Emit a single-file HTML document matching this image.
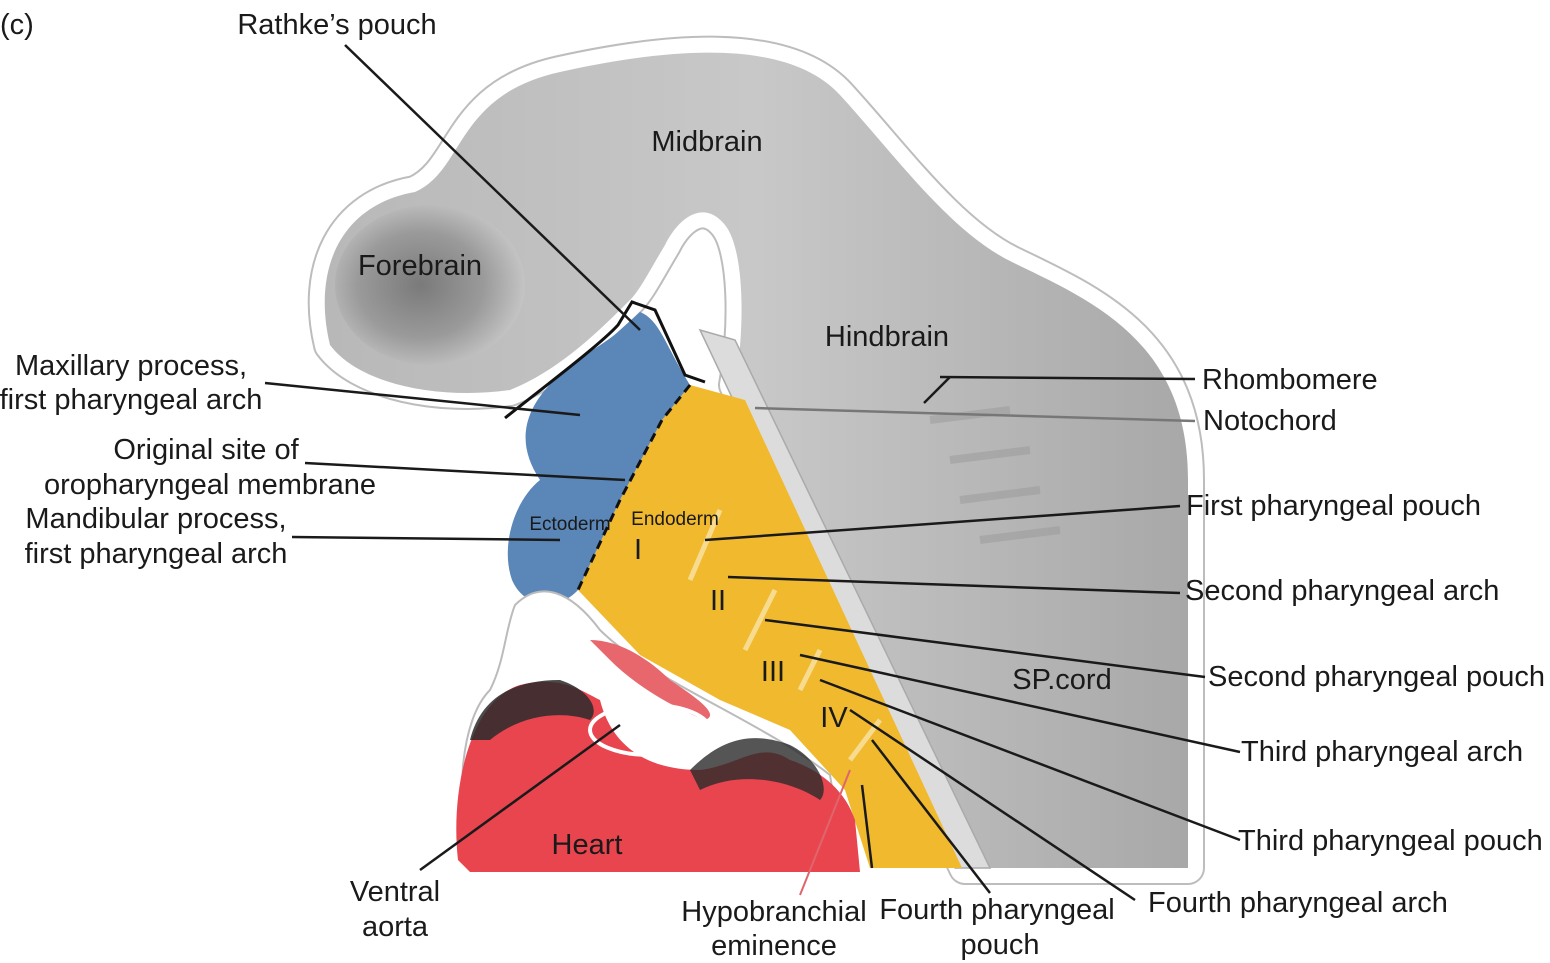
<!DOCTYPE html>
<html><head><meta charset="utf-8"><style>
body{margin:0;background:#fff;}
svg{display:block;font-family:"Liberation Sans",sans-serif;}
text{fill:#1a1a1a;font-size:29px;}
</style></head><body>
<svg width="1550" height="963" viewBox="0 0 1550 963" xmlns="http://www.w3.org/2000/svg">
<defs>
<radialGradient id="fb" cx="0.45" cy="0.5" r="0.55">
<stop offset="0" stop-color="#7a7a7a"/><stop offset="0.6" stop-color="#9a9a9a"/><stop offset="1" stop-color="#c4c4c4"/>
</radialGradient>
<linearGradient id="body" x1="0" y1="0" x2="1" y2="0">
<stop offset="0" stop-color="#b8b8b8"/><stop offset="0.5" stop-color="#c8c8c8"/><stop offset="1" stop-color="#a8a8a8"/>
</linearGradient>
<path id="bp" d="M330,345 C312,270 340,205 415,192 C465,170 455,95 560,72 C660,50 785,35 840,95 C895,155 950,232 1012,262 C1090,300 1188,340 1188,480 L1188,868 L965,868 L735,385 C745,330 745,250 725,225 C705,200 680,215 665,245 C650,270 640,290 630,300 C600,330 560,370 510,390 C440,400 360,385 330,345 Z"/>
</defs>
<use href="#bp" fill="none" stroke="#bdbdbd" stroke-width="34" stroke-linejoin="round"/>
<use href="#bp" fill="none" stroke="#fff" stroke-width="30" stroke-linejoin="round"/>
<use href="#bp" fill="url(#body)"/>
<!-- forebrain dark -->
<ellipse cx="430" cy="285" rx="95" ry="80" fill="url(#fb)"/>
<g stroke="#9a9a9a" stroke-width="8" opacity="0.5">
<line x1="930" y1="420" x2="1010" y2="410"/><line x1="950" y1="460" x2="1030" y2="450"/><line x1="960" y1="500" x2="1040" y2="490"/><line x1="980" y1="540" x2="1060" y2="530"/>
</g>
<!-- notochord band -->
<path d="M700,330 L735,340 L990,868 L955,868 Z" fill="#dcdcdc" stroke="#aaa" stroke-width="1.5"/>
<!-- yellow endoderm -->
<path d="M690,385 L745,400 L962,868 L870,868 L845,790 L790,730 L720,700 L640,655 L578,590 L620,500 L662,420 Z" fill="#f0b92e"/>
<g stroke="#f7dc90" stroke-width="5" fill="none">
<line x1="720" y1="510" x2="690" y2="580"/><line x1="775" y1="590" x2="745" y2="650"/><line x1="820" y1="650" x2="800" y2="690"/><line x1="880" y1="720" x2="850" y2="760"/>
</g>
<!-- blue ectoderm -->
<path d="M640,312 C660,320 665,345 690,385 L662,420 L620,500 L578,590 C560,610 525,610 512,580 C500,545 515,500 540,480 C520,450 520,420 545,390 C570,360 605,345 620,330 Z" fill="#5a86b8"/>
<path d="M505,418 C540,390 600,345 618,325 L632,302 L655,310 L685,375 L705,382" fill="none" stroke="#111" stroke-width="3"/>
<path d="M690,385 L662,420 L620,500 L578,590" fill="none" stroke="#111" stroke-width="3" stroke-dasharray="9,6"/>
<!-- white lower cavity -->
<path d="M515,605 C540,580 570,590 600,630 C650,680 760,720 830,775 L845,868 L470,868 C455,800 460,720 490,690 C505,660 505,630 515,605 Z" fill="#fff" stroke="#bbb" stroke-width="2"/>
<!-- heart -->
<path d="M458,860 C450,790 470,700 520,685 C560,675 580,690 600,700 C610,740 640,770 700,770 C740,765 760,740 790,760 C820,770 845,790 855,820 L860,872 L470,872 Z" fill="#e8454f"/>
<path d="M470,740 C480,700 510,680 560,680 C590,690 600,710 590,720 C560,710 520,715 490,740 Z" fill="#2a2a2a" opacity="0.85"/>
<path d="M690,770 C720,740 750,730 790,745 C820,760 830,790 820,800 C790,780 740,770 700,790 Z" fill="#2a2a2a" opacity="0.8"/>
<path d="M590,640 C620,640 650,660 670,680 C700,700 720,715 705,720 C680,710 640,690 610,660 Z" fill="#e8676d"/>
<ellipse cx="650" cy="730" rx="60" ry="25" fill="none" stroke="#fff" stroke-width="4"/>
<!-- leader lines -->
<g stroke="#1a1a1a" stroke-width="2.5" fill="none">
<line x1="345" y1="45" x2="640" y2="330"/>
<line x1="265" y1="383" x2="580" y2="415"/>
<line x1="305" y1="463" x2="625" y2="480"/>
<line x1="292" y1="537" x2="560" y2="540"/>
<line x1="1195" y1="379" x2="940" y2="377"/>
<line x1="950" y1="377" x2="924" y2="403"/>
<line x1="1180" y1="506" x2="705" y2="540"/>
<line x1="1180" y1="593" x2="728" y2="577"/>
<line x1="1205" y1="677" x2="765" y2="620"/>
<line x1="1240" y1="752" x2="800" y2="655"/>
<line x1="1240" y1="840" x2="820" y2="680"/>
<line x1="1135" y1="900" x2="850" y2="710"/>
<line x1="990" y1="893" x2="872" y2="740"/>
<line x1="862" y1="785" x2="872" y2="868"/>
<line x1="420" y1="870" x2="620" y2="725"/>
</g>
<line x1="1195" y1="421" x2="755" y2="408" stroke="#777" stroke-width="2.5"/>
<line x1="800" y1="895" x2="850" y2="770" stroke="#e0656b" stroke-width="2"/>
<!-- labels -->
<text x="0" y="34">(c)</text>
<text x="337" y="34" text-anchor="middle">Rathke’s pouch</text>
<text x="707" y="151" text-anchor="middle">Midbrain</text>
<text x="420" y="275" text-anchor="middle">Forebrain</text>
<text x="887" y="346" text-anchor="middle">Hindbrain</text>
<text x="1062" y="689" text-anchor="middle">SP.cord</text>
<text x="587" y="854" text-anchor="middle">Heart</text>
<text x="570" y="530" text-anchor="middle" style="font-size:19px">Ectoderm</text>
<text x="675" y="525" text-anchor="middle" style="font-size:19px">Endoderm</text>
<text x="638" y="559" text-anchor="middle">I</text>
<text x="718" y="610" text-anchor="middle">II</text>
<text x="773" y="681" text-anchor="middle">III</text>
<text x="834" y="727" text-anchor="middle">IV</text>
<text x="131" y="375" text-anchor="middle">Maxillary process,</text>
<text x="131" y="409" text-anchor="middle">first pharyngeal arch</text>
<text x="206" y="459" text-anchor="middle">Original site of</text>
<text x="210" y="494" text-anchor="middle">oropharyngeal membrane</text>
<text x="156" y="528" text-anchor="middle">Mandibular process,</text>
<text x="156" y="563" text-anchor="middle">first pharyngeal arch</text>
<text x="1202" y="389">Rhombomere</text>
<text x="1203" y="430">Notochord</text>
<text x="1186" y="515">First pharyngeal pouch</text>
<text x="1185" y="600">Second pharyngeal arch</text>
<text x="1208" y="686">Second pharyngeal pouch</text>
<text x="1241" y="761">Third pharyngeal arch</text>
<text x="1238" y="850">Third pharyngeal pouch</text>
<text x="1148" y="912">Fourth pharyngeal arch</text>
<text x="997" y="919" text-anchor="middle">Fourth pharyngeal</text>
<text x="1000" y="954" text-anchor="middle">pouch</text>
<text x="774" y="921" text-anchor="middle">Hypobranchial</text>
<text x="774" y="955" text-anchor="middle">eminence</text>
<text x="395" y="901" text-anchor="middle">Ventral</text>
<text x="395" y="936" text-anchor="middle">aorta</text>
</svg>
</body></html>
